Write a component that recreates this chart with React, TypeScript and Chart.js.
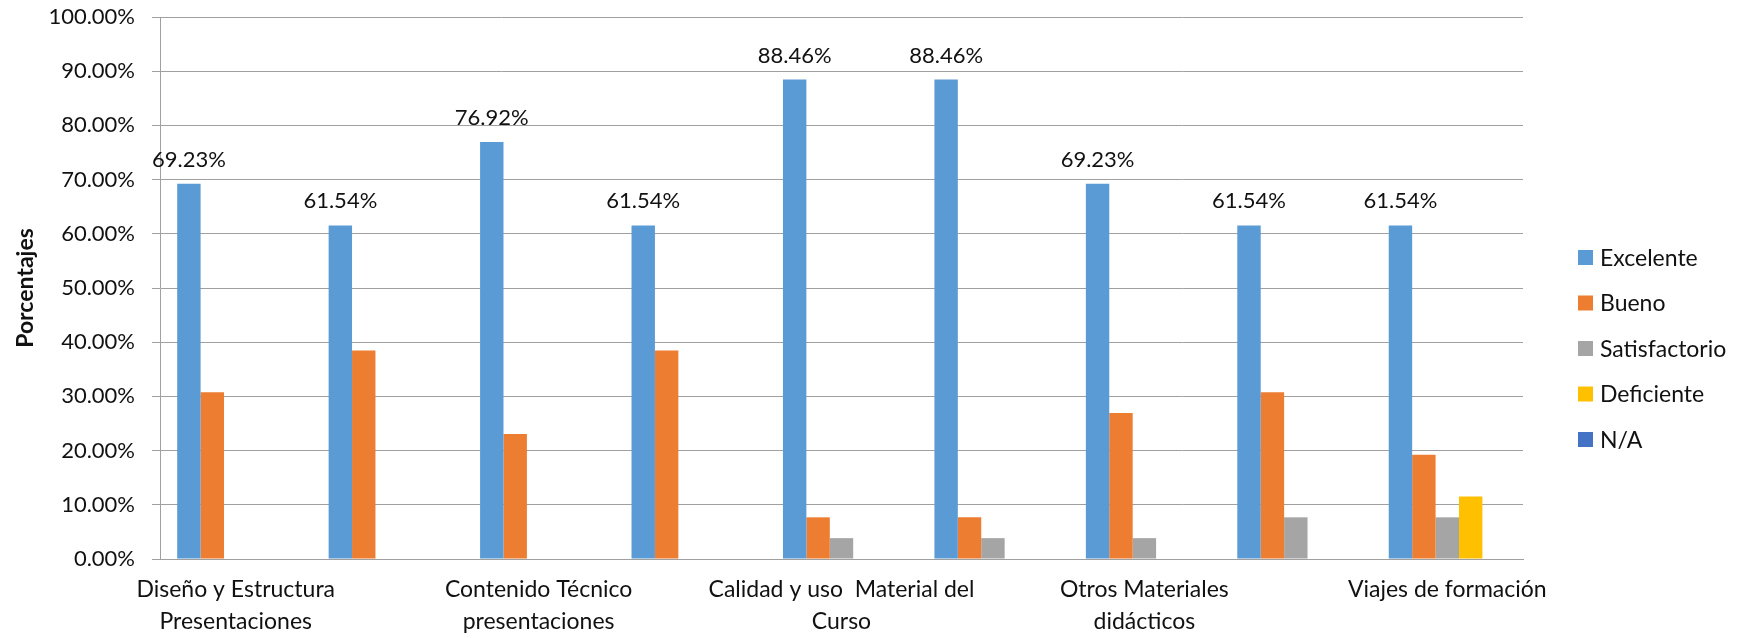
import React, { useEffect, useRef } from 'react';
import { Chart, registerables } from 'chart.js';

Chart.register(...registerables);

// ---- Data ----
const categories: (string | string[])[] = [
  ['Diseño y Estructura', 'Presentaciones'],
  '',
  ['Contenido Técnico', 'presentaciones'],
  '',
  ['Calidad y uso  Material del', 'Curso'],
  '',
  ['Otros Materiales', 'didácticos'],
  '',
  'Viajes de formación',
];

const seriesNames = ['Excelente', 'Bueno', 'Satisfactorio', 'Deficiente', 'N/A'];
const excelente = [69.23, 61.54, 76.92, 61.54, 88.46, 88.46, 69.23, 61.54, 61.54];
const bueno = [30.77, 38.46, 23.08, 38.46, 7.69, 7.69, 26.92, 30.77, 19.23];
const satisfactorio = [0, 0, 0, 0, 3.85, 3.85, 3.85, 7.69, 7.69];
const deficiente = [0, 0, 0, 0, 0, 0, 0, 0, 11.54];
const na = [0, 0, 0, 0, 0, 0, 0, 0, 0];
const seriesColors = ['#5B9BD5', '#ED7D31', '#A5A5A5', '#FFC000', '#4472C4'];

const yMin = 0;
const yMax = 100;
const yStep = 10;
const yTitle = 'Porcentajes';

const FONT = 'Lato, "Open Sans", sans-serif';
const TEXT_COLOR = '#111111';
const GRID_COLOR = '#a0a0a0';

const dataLabelPlugin = {
  id: 'dataLabels',
  afterDatasetsDraw(chart: any) {
    const ctx = chart.ctx;
    const meta = chart.getDatasetMeta(0);
    const ds = chart.data.datasets[0];
    ctx.save();
    ctx.font = `22px ${FONT}`;
    ctx.fillStyle = TEXT_COLOR;
    ctx.textAlign = 'center';
    ctx.textBaseline = 'alphabetic';
    meta.data.forEach((bar: any, i: number) => {
      const v = ds.data[i] as number;
      ctx.fillText(v.toFixed(2) + '%', bar.x, bar.y - 17);
    });
    ctx.restore();
  },
};

const legendPlugin = {
  id: 'sideLegend',
  afterDraw(chart: any) {
    const ctx = chart.ctx;
    const boxX = 1578;
    const textX = 1600;
    const firstY = 257.5;
    const gap = 45.5;
    const box = 15;
    ctx.save();
    ctx.font = `23px ${FONT}`;
    ctx.textAlign = 'left';
    ctx.textBaseline = 'middle';
    chart.data.datasets.forEach((ds: any, i: number) => {
      const cy = firstY + i * gap;
      ctx.fillStyle = ds.backgroundColor;
      ctx.fillRect(boxX, cy - box / 2, box, box);
      ctx.fillStyle = TEXT_COLOR;
      ctx.fillText(ds.label, textX, cy + 1);
    });
    ctx.restore();
  },
};

export default function App() {
  const canvasRef = useRef<HTMLCanvasElement | null>(null);

  useEffect(() => {
    if (!canvasRef.current) return;
    const seriesData = [excelente, bueno, satisfactorio, deficiente, na];
    const chart = new Chart(canvasRef.current, {
      type: 'bar',
      data: {
        labels: categories,
        datasets: seriesNames.map((name, i) => ({
          label: name,
          data: seriesData[i],
          backgroundColor: seriesColors[i],
          borderWidth: 0,
          barPercentage: 1,
          categoryPercentage: 0.773,
        })),
      },
      options: {
        animation: false,
        responsive: true,
        maintainAspectRatio: false,
        layout: { padding: { top: 17, right: 215, bottom: 0, left: 0 } },
        plugins: {
          legend: { display: false },
          tooltip: { enabled: false },
          title: { display: false },
        },
        scales: {
          x: {
            grid: { display: false, drawTicks: false },
            border: { display: true, color: GRID_COLOR, width: 1 },
            ticks: {
              autoSkip: false,
              maxRotation: 0,
              minRotation: 0,
              padding: 15,
              color: TEXT_COLOR,
              font: { family: FONT, size: 23, lineHeight: 1.39 },
            },
            afterFit: (scale: any) => {
              scale.height = 79;
            },
          },
          y: {
            min: yMin,
            max: yMax,
            ticks: {
              stepSize: yStep,
              padding: 17,
              color: TEXT_COLOR,
              font: { family: FONT, size: 22 },
              callback: (v: any) => Number(v).toFixed(2) + '%',
            },
            grid: { color: GRID_COLOR, lineWidth: 1, drawTicks: true, tickLength: 8 },
            border: { display: true, color: GRID_COLOR, width: 1 },
            title: {
              display: true,
              text: yTitle,
              color: TEXT_COLOR,
              font: { family: FONT, size: 23, weight: 'bold' },
              padding: { top: 12, bottom: 0 },
            },
            afterFit: (scale: any) => {
              scale.width = 160;
              scale.paddingTop = 0;
              scale.paddingBottom = 0;
            },
          },
        },
      },
      plugins: [dataLabelPlugin, legendPlugin],
    });
    return () => chart.destroy();
  }, []);

  return (
    <div style={{ position: 'absolute', left: 0, top: 0, width: 1738, height: 638, background: '#ffffff' }}>
      <canvas ref={canvasRef} />
    </div>
  );
}
